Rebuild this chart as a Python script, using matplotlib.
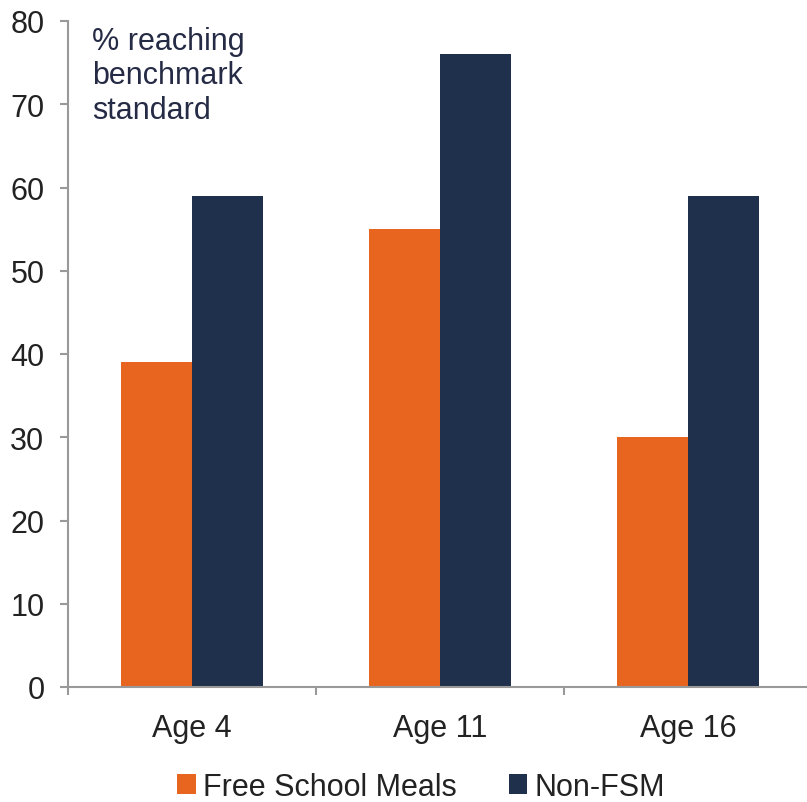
import matplotlib
matplotlib.use("Agg")
import matplotlib.pyplot as plt
from matplotlib.patches import Patch
import numpy as np

plt.rcParams['font.family'] = ['Liberation Sans', 'DejaVu Sans']

categories = ["Age 4", "Age 11", "Age 16"]
fsm = [39, 55, 30]
non_fsm = [59, 76, 59]
series_names = ["Free School Meals", "Non-FSM"]
colors = ["#E8651F", "#1F304D"]

FS = 22

fig = plt.figure(figsize=(8.07, 8.03), dpi=100)
ax = fig.add_axes([68/807, (803-688)/803, 744/807, (688-22)/803])

x = np.arange(len(categories))
w = 0.286
ax.bar(x - w/2, fsm, width=w, color=colors[0], edgecolor='none')
ax.bar(x + w/2, non_fsm, width=w, color=colors[1], edgecolor='none')

ax.set_xlim(-0.5, 2.5)
ax.set_ylim(0, 80)
ax.set_yticks(range(0, 81, 10))
ax.set_xticks(x)
ax.set_xticklabels(categories)
ax.set_xticks([-0.5, 0.5, 1.5, 2.5], minor=True)
ax.tick_params(axis='x', which='major', length=0, pad=19, labelsize=FS, labelcolor='#222222')
ax.tick_params(axis='x', which='minor', length=6, width=1.5, color='#999999', direction='out')
ax.tick_params(axis='y', length=6, width=1.5, color='#999999', pad=11, labelsize=FS, labelcolor='#222222')

for s in ['top', 'right']:
    ax.spines[s].set_visible(False)
for s in ['left', 'bottom']:
    ax.spines[s].set_color('#999999')
    ax.spines[s].set_linewidth(1.5)

ax.text(24/744, 0.993, "% reaching\nbenchmark\nstandard", transform=ax.transAxes,
        ha='left', va='top', fontsize=FS, color='#262B45', linespacing=1.2)

handles = [Patch(facecolor=c, edgecolor='none') for c in colors]
fig.legend(handles, series_names, loc='lower center', bbox_to_anchor=(0.522, -0.034), ncol=2,
           frameon=False, fontsize=FS, handlelength=0.6, handleheight=0.6,
           handletextpad=0.25, columnspacing=1.7, labelcolor='#222222')

fig.savefig("out.png", dpi=100)
